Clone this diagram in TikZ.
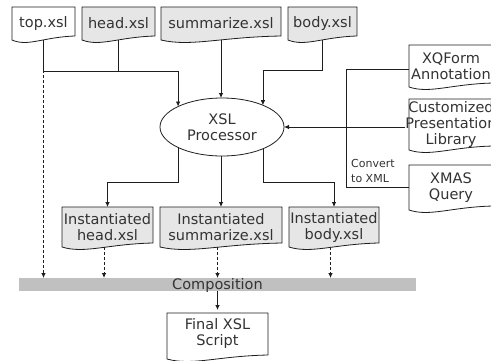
\documentclass[tikz,border=0pt]{standalone}
\usepackage{fontspec}
\setmainfont{DejaVu Sans}
\usetikzlibrary{arrows.meta,shapes.geometric,calc}
\definecolor{ink}{HTML}{1E1E1E}
\definecolor{txt}{HTML}{333333}
\definecolor{docfill}{HTML}{E6E6E6}
\definecolor{barfill}{HTML}{C0C0C0}

% document outline with a wavy bottom edge:
% #1 fill, #2 left x, #3 top y, #4 right x, #5 bottom y at the left corner
\newcommand\docoutline[5]{%
  \filldraw[docline, fill=#1] (#2,#3) -- (#4,#3) -- (#4,#5-4)
    .. controls ({#2+0.5*(#4-#2)},#5-3) and ({#2+0.25*(#4-#2)},#5+7) .. (#2,#5) -- cycle;}

\tikzset{
  docline/.style={draw=ink, line width=0.8pt},
  doctext/.style={text=txt, align=center, inner sep=0pt, outer sep=0pt,
    font=\fontsize{14.5}{16}\selectfont},
  smalltext/.style={text=txt, align=left, inner sep=0pt,
    font=\fontsize{11}{15}\selectfont},
  conn/.style={draw=ink, line width=0.8pt},
  arrowconn/.style={conn, -{Latex[length=5pt,width=4.5pt]}},
  dashconn/.style={arrowconn, dash pattern=on 3pt off 2pt},
}

\begin{document}
\begin{tikzpicture}[x=1pt, y=-1pt]
\useasboundingbox (0,0) rectangle (491,360);
\clip (0,0) rectangle (491,360);
\fill[white] (0,0) rectangle (491,360);

% source stylesheets
\docoutline{white}{12}{7}{75}{40}
\node[doctext, minimum width=63, minimum height=33] (top) at (43.5,23.5) {top.xsl};
\docoutline{docfill}{82}{7}{155}{40}
\node[doctext, minimum width=73, minimum height=33] (head) at (118.5,23.5) {head.xsl};
\docoutline{docfill}{161}{7}{281}{40}
\node[doctext, minimum width=120, minimum height=33] (summ) at (221,23.5) {summarize.xsl};
\docoutline{docfill}{288}{7}{357}{40}
\node[doctext, minimum width=69, minimum height=33] (body) at (322.5,23.5) {body.xsl};

% processor
\node[doctext, ellipse, draw=ink, line width=0.8pt, fill=white,
      minimum width=124, minimum height=58] (proc) at (222,127) {XSL\\Processor};

% inputs on the right
\docoutline{white}{409}{45}{493}{87}
\node[doctext, minimum width=84, minimum height=42] (xq) at (451,66) {XQForm\\Annotation};
\docoutline{white}{409}{99}{493}{150}
\node[doctext, minimum width=84, minimum height=51] (lib) at (451,124.5) {Customized\\Presentation\\Library};
\docoutline{white}{409}{165}{493}{210}
\node[doctext, minimum width=84, minimum height=45] (xmas) at (451,187.5) {XMAS\\Query};
\node[smalltext, anchor=north west] (cvlbl) at (351,159.5) {Convert\\to XML};

% instantiated stylesheets
\docoutline{docfill}{62}{207}{153}{247}
\node[doctext, minimum width=91, minimum height=40] (ihead) at (107.5,227) {Instantiated\\head.xsl};
\docoutline{docfill}{160}{207}{282}{247}
\node[doctext, minimum width=122, minimum height=40] (isumm) at (221,227) {Instantiated\\summarize.xsl};
\docoutline{docfill}{289}{207}{379}{247}
\node[doctext, minimum width=90, minimum height=40] (ibody) at (334,227) {Instantiated\\body.xsl};

% composition bar and result
\node[doctext, fill=barfill, minimum width=397, minimum height=13,
      text height=10.5pt, text depth=0pt] (comp) at (217.5,284.5) {Composition};
\docoutline{white}{167}{313}{268}{359}
\node[doctext, minimum width=101, minimum height=46] (fin) at (217.5,333) {Final XSL\\Script};

% connectors into the processor
\draw[arrowconn] (top.south) -- ++(0,31) coordinate (jt) -| (proc.155);
\draw[conn] (head.south) -- (head.south |- jt);
\draw[arrowconn] (summ.south) -- (summ.south |- proc.north);
\draw[arrowconn] (body.south) -- ++(0,30) -| (proc.28);
\draw[arrowconn] (lib.west |- proc.east) -- (proc.east);
\draw[conn] ([yshift=-3pt]xq.west) -- ++(-63,0) |- (xmas.west);

% connectors out of the processor
\draw[arrowconn] (proc.205) -- ++(0,34.5) -| (ihead.north);
\draw[arrowconn] (isumm.north |- proc.south) -- (isumm.north);
\draw[arrowconn] (proc.332) -- ++(0,34) -| (ibody.north);

% dashed feeds into the composition
\path ([xshift=-3.5pt]ihead.south) coordinate (ihout)
      ([xshift=-3.5pt]isumm.south) coordinate (isout)
      ([xshift=-3.5pt]ibody.south) coordinate (ibout);
\draw[dashconn] (top.south) -- (top.south |- comp.north);
\draw[dashconn] (ihout) -- (ihout |- comp.north);
\draw[dashconn] (isout) -- (isout |- comp.north);
\draw[dashconn] (ibout) -- (ibout |- comp.north);

\draw[arrowconn] (comp.south) -- (fin.north);
\end{tikzpicture}
\end{document}
